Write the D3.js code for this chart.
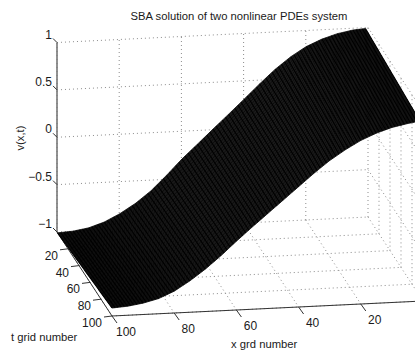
<!DOCTYPE html>
<html>
<head>
<meta charset="utf-8">
<script src="https://cdn.jsdelivr.net/npm/d3@7"></script>
<style>
  html, body { margin: 0; padding: 0; background: #fff; overflow: hidden; }
  text { font-family: "Liberation Sans", Arial, sans-serif; fill: #1a1a1a; }
</style>
</head>
<body>
<svg id="chart" width="415" height="354"></svg>
<script>
// values
const xSamples = [1, 5, 10, 15, 20, 25, 30, 35, 40, 45, 50, 55, 60, 65, 70, 75, 80, 85, 90, 95, 100];
const vAtFirstT = [1, 0.99, 0.96, 0.91, 0.84, 0.74, 0.616, 0.47, 0.316, 0.165, 0.016, -0.135, -0.284, -0.45, -0.605, -0.73, -0.83, -0.91, -0.963, -0.99, -1];
const vAtLastT = [0.9, 0.88, 0.847, 0.795, 0.726, 0.635, 0.53, 0.405, 0.27, 0.135, 0, -0.135, -0.274, -0.42, -0.553, -0.67, -0.77, -0.84, -0.88, -0.905, -0.916];

const xTicks = [100, 80, 60, 40, 20];
const tTicks = [20, 40, 60, 80, 100];
const vTicks = [1, 0.5, 0, -0.5, -1];
const vTickLabels = ["1", "0.5", "0", "\u22120.5", "\u22121"];
const meshX = d3.range(1, 101);
const meshT = d3.range(1, 101);

const svg = d3.select("#chart");

// box projection: each data axis moves the point along its own screen direction
const xToPx = d3.scaleLinear().domain([100, 0]).range([57, 368]);
const xToPy = d3.scaleLinear().domain([100, 0]).range([0, -15]);
const tToPx = d3.scaleLinear().domain([0, 100]).range([0, 55]);
const tToPy = d3.scaleLinear().domain([0, 100]).range([0, 84]);
const vToPy = d3.scaleLinear().domain([-1, 1]).range([232, 42.5]);

const project = (x, t, v) => [xToPx(x) + tToPx(t), xToPy(x) + tToPy(t) + vToPy(v)];

const backRow = d3.scaleLinear().domain(xSamples).range(vAtFirstT);
const frontRow = d3.scaleLinear().domain(xSamples).range(vAtLastT);
const surface = (x, t) => d3.scaleLinear().domain([1, 100]).range([backRow(x), frontRow(x)])(t);

const line = d3.line();
const segment = (a, b) => line([a, b]);

// dotted grid on the two walls and the floor
const gridG = svg.append("g")
  .attr("fill", "none").attr("stroke", "#8c8c8c").attr("stroke-width", 1)
  .attr("stroke-dasharray", "1,3");
const gridPaths = [];
xTicks.forEach((x) => {
  gridPaths.push(segment(project(x, 0, -1), project(x, 0, 1)));
  gridPaths.push(segment(project(x, 0, -1), project(x, 100, -1)));
});
[0, ...tTicks].forEach((t) => {
  gridPaths.push(segment(project(100, t, -1), project(0, t, -1)));
  gridPaths.push(segment(project(0, t, -1), project(0, t, 1)));
});
vTicks.filter((v) => v > -1).forEach((v) => {
  gridPaths.push(segment(project(100, 0, v), project(0, 0, v)));
  gridPaths.push(segment(project(0, 0, v), project(0, 100, v)));
});
gridPaths.push(segment(project(0, 0, -1), project(0, 100, -1)));
gridG.selectAll("path").data(gridPaths).join("path").attr("d", (d) => d);

// axis lines
const axisG = svg.append("g").attr("fill", "none").attr("stroke", "#333").attr("stroke-width", 1);
axisG.append("path").attr("d", segment(project(100, 0, -1), project(100, 0, 1)))
  .attr("stroke", "#777").attr("stroke-width", 1.6);
axisG.append("path").attr("d", segment(project(100, 0, -1), project(100, 100, -1)));
axisG.append("path").attr("d", segment(project(100, 100, -1), project(0, 100, -1)));

vTicks.forEach((v) => {
  const p = project(100, 0, v);
  axisG.append("path").attr("d", segment(p, [p[0] - 4, p[1] - 4]));
});
tTicks.forEach((t) => {
  const p = project(100, t, -1);
  axisG.append("path").attr("d", segment(p, [p[0] - 8, p[1] + 1]));
});
xTicks.forEach((x) => {
  const p = project(x, 100, -1);
  axisG.append("path").attr("d", segment(p, [p[0] + 5, p[1] + 7]));
});

// surface: dark base first (the mesh is so dense it reads as near black), then the lines
const outline = [
  ...meshX.map((x) => project(x, 1, surface(x, 1))),
  ...meshT.map((t) => project(100, t, surface(100, t))),
  ...meshX.slice().reverse().map((x) => project(x, 100, surface(x, 100))),
  ...meshT.slice().reverse().map((t) => project(1, t, surface(1, t))),
];
svg.append("path").attr("d", line(outline) + "Z").attr("fill", "#2e2e2e");

const meshG = svg.append("g").attr("fill", "none").attr("stroke", "#000");
meshT.forEach((t) => {
  meshG.append("path").attr("stroke-width", 0.75)
    .attr("d", line(meshX.map((x) => project(x, t, surface(x, t)))));
});
meshX.forEach((x) => {
  meshG.append("path").attr("stroke-width", 1.1)
    .attr("d", line(meshT.map((t) => project(x, t, surface(x, t)))));
});

// texts
const labelFont = "12px";
svg.append("text").attr("x", 239).attr("y", 20).attr("text-anchor", "middle")
  .style("font-size", "11.25px").text("SBA solution of two nonlinear PDEs system");

vTicks.forEach((v, i) => {
  const p = project(100, 0, v);
  svg.append("text").attr("x", p[0] - 5).attr("y", p[1] - 4)
    .attr("text-anchor", "end").style("font-size", labelFont).text(vTickLabels[i]);
});
tTicks.forEach((t) => {
  const p = project(100, t, -1);
  svg.append("text").attr("x", p[0] - 10).attr("y", p[1] + 11)
    .attr("text-anchor", "end").style("font-size", labelFont).text(t);
});
xTicks.forEach((x) => {
  const p = project(x, 100, -1);
  svg.append("text").attr("x", p[0] + 14).attr("y", p[1] + 20)
    .attr("text-anchor", "middle").style("font-size", labelFont).text(x);
});

svg.append("text").attr("transform", "translate(24,138) rotate(-90)")
  .attr("text-anchor", "middle").style("font-size", "11.25px").text("v(x,t)");
svg.append("text").attr("x", 11).attr("y", 341).style("font-size", "11.25px").text("t grid number");
svg.append("text").attr("x", 231).attr("y", 348).style("font-size", "11.25px").text("x grd number");
</script>
</body>
</html>
